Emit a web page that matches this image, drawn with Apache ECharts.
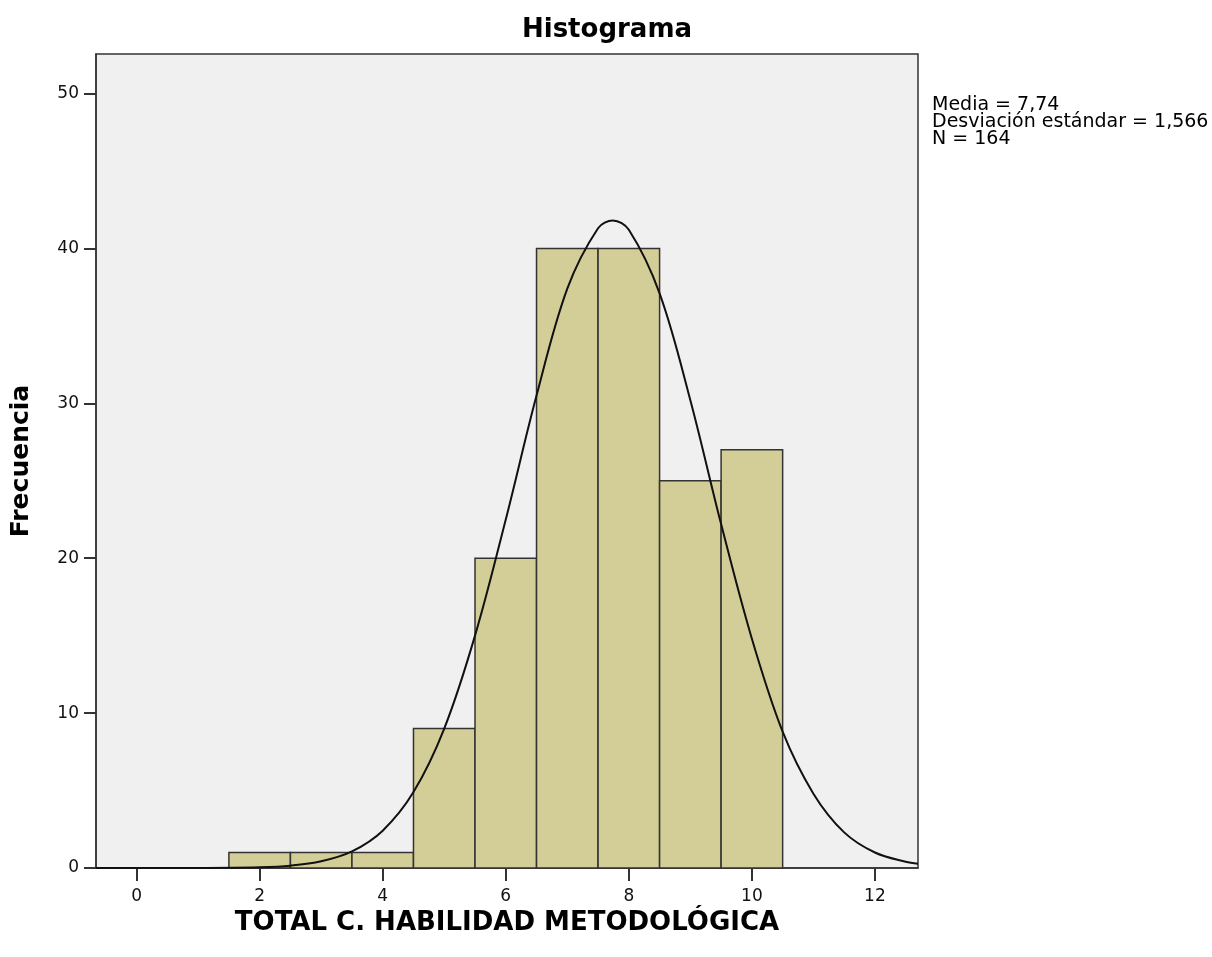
<!DOCTYPE html>
<html>
<head>
<meta charset="utf-8">
<script src="https://cdn.jsdelivr.net/npm/echarts@6/dist/echarts.min.js"></script>
<style>
html,body{margin:0;padding:0;background:#fff;}
#c{width:1212px;height:957px;}
</style>
</head>
<body>
<div id="c"></div>
<script>
// Histogram bins (start, end) and frequencies
const binStart = [1.5, 2.5, 3.5, 4.5, 5.5, 6.5, 7.5, 8.5, 9.5];
const binEnd   = [2.5, 3.5, 4.5, 5.5, 6.5, 7.5, 8.5, 9.5, 10.5];
const freq     = [1, 1, 1, 9, 20, 40, 40, 25, 27];

// Normal curve points
const curveX = [-0.66, 0, 1, 2, 2.5, 3, 3.5, 4, 4.5, 5, 5.5, 6, 6.5, 7, 7.5, 7.74, 8, 8.5, 9, 9.5, 10, 10.5, 11, 11.5, 12, 12.5, 12.7];
const curveY = [0, 0, 0.005, 0.05, 0.15, 0.43, 1.07, 2.41, 4.9, 9.0, 15.0, 22.5, 30.5, 37.4, 41.3, 41.8, 41.2, 37.1, 30.2, 22.2, 14.8, 8.8, 4.8, 2.3, 1.0, 0.4, 0.28];

const xTicks = [0, 2, 4, 6, 8, 10, 12];
const yTicks = [0, 10, 20, 30, 40, 50];

const statsText = ['Media = 7,74', 'Desviación estándar = 1,566', 'N = 164'];
const chartTitle = 'Histograma';
const xName = 'TOTAL C. HABILIDAD METODOLÓGICA';
const yName = 'Frecuencia';

const FONT = 'DejaVu Sans, sans-serif';

const chart = echarts.init(document.getElementById('c'), null, {renderer: 'canvas'});

const histData = binStart.map((s, i) => [s, binEnd[i], freq[i]]);
const curveData = curveX.map((x, i) => [x, curveY[i]]);

chart.setOption({
  animation: false,
  backgroundColor: '#ffffff',
  title: [
    {
      text: chartTitle,
      left: 607, top: 17, textAlign: 'center', padding: 0,
      textStyle: {fontFamily: FONT, fontSize: 26, fontWeight: 'bold', color: '#000'}
    },
    {
      text: statsText.join('\n'),
      left: 932, top: 97, padding: 0,
      textStyle: {fontFamily: FONT, fontSize: 19, fontWeight: 'normal', color: '#000', lineHeight: 17}
    }
  ],
  grid: {
    left: 96, right: 294, top: 54, bottom: 89,
    show: true, backgroundColor: '#f0f0f0', borderColor: '#333', borderWidth: 1.5,
    containLabel: false
  },
  xAxis: {
    type: 'value',
    min: -0.66, max: 12.7,
    name: xName,
    nameLocation: 'middle',
    nameGap: 27,
    nameTextStyle: {fontFamily: FONT, fontSize: 26, fontWeight: 'bold', color: '#000'},
    axisLine: {show: true, onZero: false, lineStyle: {color: '#333', width: 1.5}},
    axisTick: {show: true, inside: false, length: 13, customValues: xTicks, lineStyle: {color: '#333', width: 2}},
    axisLabel: {customValues: xTicks, margin: 20, fontFamily: FONT, fontSize: 17, color: '#111'},
    splitLine: {show: false}
  },
  yAxis: {
    type: 'value',
    min: 0, max: 52.55,
    name: yName,
    nameLocation: 'middle',
    nameGap: 62,
    nameTextStyle: {fontFamily: FONT, fontSize: 25, fontWeight: 'bold', color: '#000'},
    axisLine: {show: true, onZero: false, lineStyle: {color: '#333', width: 1.5}},
    axisTick: {show: true, inside: false, length: 12, customValues: yTicks, lineStyle: {color: '#333', width: 2}},
    axisLabel: {customValues: yTicks, margin: 17, fontFamily: FONT, fontSize: 17, color: '#111'},
    splitLine: {show: false}
  },
  series: [
    {
      type: 'custom',
      data: histData,
      encode: {x: [0, 1], y: 2},
      renderItem: function (params, api) {
        const p0 = api.coord([api.value(0), api.value(2)]);
        const p1 = api.coord([api.value(1), 0]);
        return {
          type: 'rect',
          shape: {x: p0[0], y: p0[1], width: p1[0] - p0[0], height: p1[1] - p0[1]},
          style: {fill: '#d3ce97', stroke: '#333', lineWidth: 1.5}
        };
      },
      z: 2
    },
    {
      type: 'line',
      data: curveData,
      smooth: 0.35,
      showSymbol: false,
      lineStyle: {color: '#111', width: 2},
      z: 3
    }
  ]
});
</script>
</body>
</html>
